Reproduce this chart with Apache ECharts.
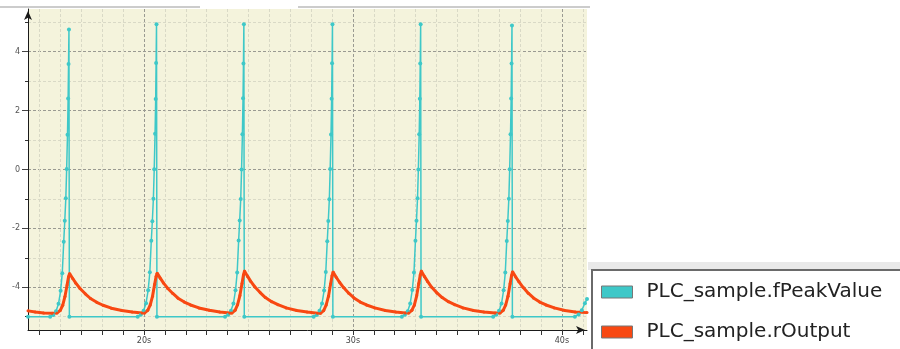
<!DOCTYPE html>
<html>
<head>
<meta charset="utf-8">
<script src="https://cdn.jsdelivr.net/npm/echarts@6/dist/echarts.min.js"></script>
<style>
  html, body { margin: 0; padding: 0; background: #fff; }
  #main { width: 900px; height: 349px; }
</style>
</head>
<body>
<div id="main"></div>
<script>
// axis ticks / labels
const secTicks = [15, 16, 17, 18, 19, 20, 21, 22, 23, 24, 25, 26, 27, 28, 29, 30, 31, 32, 33, 34, 35, 36, 37, 38, 39, 40, 41]
const majorSecs = [20, 30, 40]
const yMinorTicks = [-5, -4, -3, -2, -1, 0, 1, 2, 3, 4, 5]
const yMajorTicks = [-4, -2, 0, 2, 4]

// PLC_sample.fPeakValue (time in s, value)
const fPeakTime = [
  14.45,
  15.51, 15.66, 15.79, 15.91, 16.01, 16.09, 16.16, 16.21, 16.26, 16.30, 16.34, 16.37, 16.39, 16.41, 16.43,
  19.70, 19.85, 19.98, 20.10, 20.20, 20.28, 20.35, 20.40, 20.45, 20.49, 20.53, 20.56, 20.58, 20.60, 20.62,
  23.88, 24.03, 24.16, 24.28, 24.38, 24.46, 24.53, 24.58, 24.63, 24.67, 24.71, 24.74, 24.76, 24.78, 24.80,
  28.12, 28.27, 28.40, 28.52, 28.62, 28.70, 28.77, 28.82, 28.87, 28.91, 28.95, 28.98, 29.00, 29.02, 29.04,
  32.34, 32.49, 32.62, 32.74, 32.84, 32.92, 32.99, 33.04, 33.09, 33.13, 33.17, 33.20, 33.22, 33.24, 33.26,
  36.71, 36.86, 36.99, 37.11, 37.21, 37.29, 37.36, 37.41, 37.46, 37.50, 37.54, 37.57, 37.59, 37.61, 37.63,
  40.62, 40.80, 40.95, 41.10, 41.20
]
const fPeakValue = [
  -5.0,
  -5.0, -4.94, -4.81, -4.56, -4.12, -3.52, -2.45, -1.74, -0.98, 0.02, 1.18, 2.41, 3.58, 4.75, -5.0,
  -5.0, -4.93, -4.80, -4.54, -4.10, -3.49, -2.42, -1.76, -0.99, 0.01, 1.21, 2.39, 3.62, 4.93, -5.0,
  -5.0, -4.93, -4.80, -4.55, -4.10, -3.50, -2.41, -1.73, -1.00, 0.00, 1.20, 2.42, 3.60, 4.93, -5.0,
  -5.0, -4.94, -4.80, -4.55, -4.11, -3.48, -2.44, -1.75, -1.01, 0.02, 1.19, 2.40, 3.61, 4.93, -5.0,
  -5.0, -4.93, -4.81, -4.55, -4.09, -3.50, -2.42, -1.74, -0.98, 0.00, 1.20, 2.40, 3.60, 4.93, -5.0,
  -5.0, -4.93, -4.80, -4.55, -4.10, -3.50, -2.43, -1.75, -0.99, 0.01, 1.20, 2.41, 3.60, 4.89, -5.0,
  -5.0, -4.92, -4.78, -4.54, -4.40
]

// PLC_sample.rOutput (time in s, value)
const rOutTime = [
  14.45, 14.80, 15.20, 15.60,
  15.84, 15.99, 16.11, 16.22, 16.32, 16.39, 16.44,
  16.59, 16.74, 16.94, 17.19, 17.44, 17.74, 18.04, 18.44, 18.94, 19.44, 19.90,
  20.03, 20.18, 20.30, 20.41, 20.51, 20.58, 20.63,
  20.78, 20.93, 21.13, 21.38, 21.63, 21.93, 22.23, 22.63, 23.13, 23.63, 24.10,
  24.21, 24.36, 24.48, 24.59, 24.69, 24.76, 24.81,
  24.96, 25.11, 25.31, 25.56, 25.81, 26.11, 26.41, 26.81, 27.31, 27.81, 28.30,
  28.45, 28.60, 28.72, 28.83, 28.93, 29.00, 29.05,
  29.20, 29.35, 29.55, 29.80, 30.05, 30.35, 30.65, 31.05, 31.55, 32.05, 32.50,
  32.67, 32.82, 32.94, 33.05, 33.15, 33.22, 33.27,
  33.42, 33.57, 33.77, 34.02, 34.27, 34.57, 34.87, 35.27, 35.77, 36.27, 36.80,
  37.04, 37.19, 37.31, 37.42, 37.52, 37.59, 37.64,
  37.79, 37.94, 38.14, 38.39, 38.64, 38.94, 39.24, 39.64, 40.14, 40.64, 41.20
]
const rOutValue = [
  -4.80, -4.84, -4.87, -4.88,
  -4.87, -4.79, -4.61, -4.31, -3.92, -3.64, -3.53,
  -3.70, -3.86, -4.04, -4.22, -4.38, -4.51, -4.61, -4.71, -4.79, -4.84, -4.87,
  -4.87, -4.78, -4.60, -4.30, -3.90, -3.63, -3.52,
  -3.69, -3.85, -4.03, -4.21, -4.37, -4.50, -4.60, -4.70, -4.78, -4.84, -4.87,
  -4.87, -4.78, -4.59, -4.28, -3.87, -3.58, -3.45,
  -3.63, -3.80, -3.99, -4.18, -4.35, -4.49, -4.59, -4.70, -4.79, -4.84, -4.88,
  -4.88, -4.79, -4.60, -4.30, -3.89, -3.61, -3.48,
  -3.66, -3.82, -4.01, -4.20, -4.36, -4.50, -4.60, -4.70, -4.79, -4.84, -4.87,
  -4.87, -4.78, -4.60, -4.29, -3.87, -3.58, -3.45,
  -3.63, -3.80, -4.00, -4.19, -4.35, -4.49, -4.59, -4.70, -4.79, -4.84, -4.87,
  -4.87, -4.78, -4.60, -4.30, -3.88, -3.60, -3.47,
  -3.65, -3.81, -4.00, -4.20, -4.36, -4.50, -4.60, -4.70, -4.79, -4.84, -4.86
]

const X_MIN = 14.45
const X_MAX = 41.2
const Y_MIN = -5.45
const Y_MAX = 5.45
const FONT = 'DejaVu Sans'

const chart = echarts.init(document.getElementById('main'))

const option = {
  animation: false,
  backgroundColor: '#fff',
  grid: {
    left: 28,
    right: 313,
    top: 9,
    bottom: 19,
    show: true,
    backgroundColor: '#f4f3dc',
    borderWidth: 0
  },
  legend: {
    orient: 'vertical',
    left: 601,
    top: 281,
    padding: 0,
    itemWidth: 31,
    itemHeight: 12,
    itemGap: 18,
    icon: 'rect',
    itemStyle: { borderColor: '#777', borderWidth: 1 },
    textStyle: { fontSize: 20, fontFamily: FONT, color: '#222', lineHeight: 22, padding: [0, 0, 0, 9] },
    data: ['PLC_sample.fPeakValue', 'PLC_sample.rOutput']
  },
  xAxis: [
    {
      type: 'value',
      min: X_MIN,
      max: X_MAX,
      position: 'bottom',
      axisLine: {
        show: true,
        onZero: false,
        symbol: ['none', 'arrow'],
        symbolSize: [6, 9],
        symbolOffset: [0, -2],
        lineStyle: { color: '#1a1a1a', width: 1 }
      },
      axisTick: { show: true, customValues: secTicks, length: 5, lineStyle: { color: '#333' } },
      axisLabel: {
        show: true,
        customValues: majorSecs,
        formatter: (v) => v + 's',
        fontSize: 8,
        fontFamily: FONT,
        color: '#444',
        margin: 7
      },
      splitLine: { show: true, lineStyle: { color: '#d9d9c6', type: [3, 2], width: 1 } }
    },
    {
      // major vertical grid lines only
      type: 'value',
      min: X_MIN,
      max: X_MAX,
      position: 'bottom',
      axisLine: { show: false, onZero: false },
      axisTick: { show: false, customValues: majorSecs },
      axisLabel: { show: false },
      splitLine: { show: true, lineStyle: { color: '#9a9a92', type: [3, 2], width: 1 } }
    }
  ],
  yAxis: [
    {
      type: 'value',
      min: Y_MIN,
      max: Y_MAX,
      position: 'left',
      axisLine: {
        show: true,
        onZero: false,
        symbol: ['none', 'arrow'],
        symbolSize: [6, 9],
        symbolOffset: [0, -2],
        lineStyle: { color: '#1a1a1a', width: 1 }
      },
      axisTick: { show: true, customValues: yMinorTicks, length: 3, lineStyle: { color: '#333' } },
      axisLabel: { show: false },
      splitLine: { show: true, lineStyle: { color: '#d9d9c6', type: [3, 2], width: 1 } }
    },
    {
      // major ticks, labels and horizontal grid lines
      type: 'value',
      min: Y_MIN,
      max: Y_MAX,
      position: 'left',
      axisLine: { show: false, onZero: false },
      axisTick: { show: true, customValues: yMajorTicks, length: 6, lineStyle: { color: '#444' } },
      axisLabel: {
        show: true,
        customValues: yMajorTicks,
        fontSize: 8,
        fontFamily: FONT,
        color: '#555',
        margin: 8
      },
      splitLine: { show: true, lineStyle: { color: '#9a9a92', type: [3, 2], width: 1 } }
    }
  ],
  graphic: [
    { type: 'line', z: 1, shape: { x1: 0, y1: 7, x2: 200, y2: 7 }, style: { stroke: '#bbbbbb', lineWidth: 1.5 } },
    { type: 'line', z: 1, shape: { x1: 298, y1: 7, x2: 590, y2: 7 }, style: { stroke: '#bbbbbb', lineWidth: 1.5 } },
    { type: 'rect', z: 1, shape: { x: 588, y: 262, width: 312, height: 8 }, style: { fill: '#e9e9e9' } },
    { type: 'rect', z: 1, shape: { x: 592, y: 270, width: 320, height: 90 }, style: { fill: '#fff', stroke: '#6a6a6a', lineWidth: 2 } }
  ],
  series: [
    {
      name: 'PLC_sample.fPeakValue',
      type: 'line',
      xAxisIndex: 0,
      yAxisIndex: 0,
      showSymbol: true,
      symbol: 'circle',
      symbolSize: 4,
      color: '#3ec8c8',
      lineStyle: { width: 1.5, color: '#3ec8c8' },
      data: fPeakTime.map((t, i) => [t, fPeakValue[i]])
    },
    {
      name: 'PLC_sample.rOutput',
      type: 'line',
      xAxisIndex: 0,
      yAxisIndex: 0,
      showSymbol: true,
      symbol: 'circle',
      symbolSize: 3,
      color: '#f84812',
      lineStyle: { width: 3, color: '#f84812' },
      data: rOutTime.map((t, i) => [t, rOutValue[i]])
    }
  ]
}

chart.setOption(option)
</script>
</body>
</html>
